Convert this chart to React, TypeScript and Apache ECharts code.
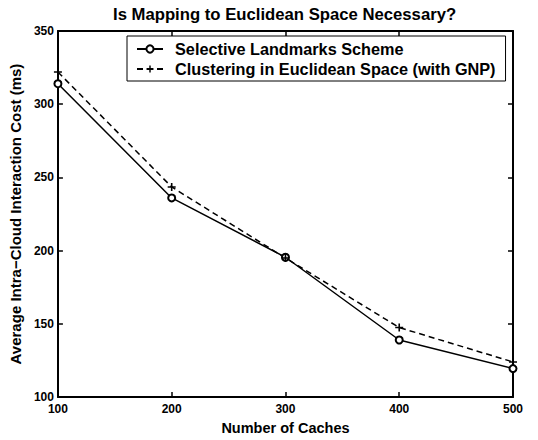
import React, { useEffect, useRef } from "react";
import * as echarts from "echarts";

const caches = [100, 200, 300, 400, 500];
const selectiveLandmarks = [314, 236, 195.5, 139, 119.5];
const clusteringGNP = [322, 243.5, 195, 147.5, 124];
const xTicks = { min: 100, max: 500, interval: 100 };
const yTicks = { min: 100, max: 350, interval: 50 };

const FONT = "'Liberation Sans', Arial, Helvetica, sans-serif";
const PLUS = "path://M4,0H6V4H10V6H6V10H4V6H0V4H4Z";

export default function App() {
  const ref = useRef<HTMLDivElement>(null);
  useEffect(() => {
    if (!ref.current) return;
    const chart = echarts.init(ref.current, undefined, { renderer: "svg" });
    const axisLine = { show: true, lineStyle: { color: "#000", width: 2 } };
    const tick = { show: true, inside: true, length: 5, lineStyle: { color: "#000", width: 1.5 } };
    const label = { color: "#000", fontWeight: "bold" as const, fontSize: 12, fontFamily: FONT };
    chart.setOption({
      animation: false,
      backgroundColor: "#fff",
      textStyle: { fontFamily: FONT },
      title: {
        text: "Is Mapping to Euclidean Space Necessary?",
        left: 113,
        top: 6,
        padding: 0,
        textStyle: { color: "#000", fontWeight: "bold", fontSize: 16.7, fontFamily: FONT },
      },
      grid: { left: 52, right: 25, top: 31, bottom: 35, containLabel: false },
      legend: {
        orient: "vertical",
        left: 127,
        top: 36,
        padding: [5, 10, 4, 9],
        itemGap: 4,
        itemWidth: 26,
        itemHeight: 9,
        backgroundColor: "#fff",
        borderColor: "#000",
        borderWidth: 1,
        borderRadius: 0,
        textStyle: { color: "#000", fontWeight: "bold", fontSize: 16.25, fontFamily: FONT, padding: [0, 0, 0, 7] },
        data: ["Selective Landmarks Scheme", "Clustering in Euclidean Space (with GNP)"],
      },
      xAxis: [
        {
          type: "value",
          ...xTicks,
          position: "bottom",
          name: "Number of Caches",
          nameLocation: "middle",
          nameGap: 18,
          nameTextStyle: { color: "#000", fontWeight: "bold", fontSize: 14.5, fontFamily: FONT },
          axisLine,
          axisTick: tick,
          axisLabel: { ...label, margin: 6 },
          splitLine: { show: false },
        },
        {
          type: "value",
          ...xTicks,
          position: "top",
          axisLine,
          axisTick: tick,
          axisLabel: { show: false },
          splitLine: { show: false },
        },
      ],
      yAxis: [
        {
          type: "value",
          ...yTicks,
          position: "left",
          name: "Average Intra\u2212Cloud Interaction Cost (ms)",
          nameLocation: "middle",
          nameGap: 28,
          nameTextStyle: { color: "#000", fontWeight: "bold", fontSize: 15, fontFamily: FONT },
          axisLine,
          axisTick: tick,
          axisLabel: { ...label, margin: 4 },
          splitLine: { show: false },
        },
        {
          type: "value",
          ...yTicks,
          position: "right",
          axisLine,
          axisTick: tick,
          axisLabel: { show: false },
          splitLine: { show: false },
        },
      ],
      series: [
        {
          name: "Selective Landmarks Scheme",
          type: "line",
          xAxisIndex: 0,
          yAxisIndex: 0,
          data: caches.map((c, i) => [c, selectiveLandmarks[i]]),
          symbol: "emptyCircle",
          symbolSize: 7,
          showAllSymbol: true,
          lineStyle: { color: "#000", width: 1.5, type: "solid" },
          itemStyle: { color: "#000", borderColor: "#000", borderWidth: 1.5 },
        },
        {
          name: "Clustering in Euclidean Space (with GNP)",
          type: "line",
          xAxisIndex: 0,
          yAxisIndex: 0,
          data: caches.map((c, i) => [c, clusteringGNP[i]]),
          symbol: PLUS,
          symbolSize: 8,
          showAllSymbol: true,
          lineStyle: { color: "#000", width: 1.5, type: [6, 4] },
          itemStyle: { color: "#000", borderWidth: 0 },
        },
      ],
    });
    return () => chart.dispose();
  }, []);
  return (
    <div
      ref={ref}
      style={{ position: "fixed", left: 0, top: 0, width: 538, height: 440, background: "#fff" }}
    />
  );
}
